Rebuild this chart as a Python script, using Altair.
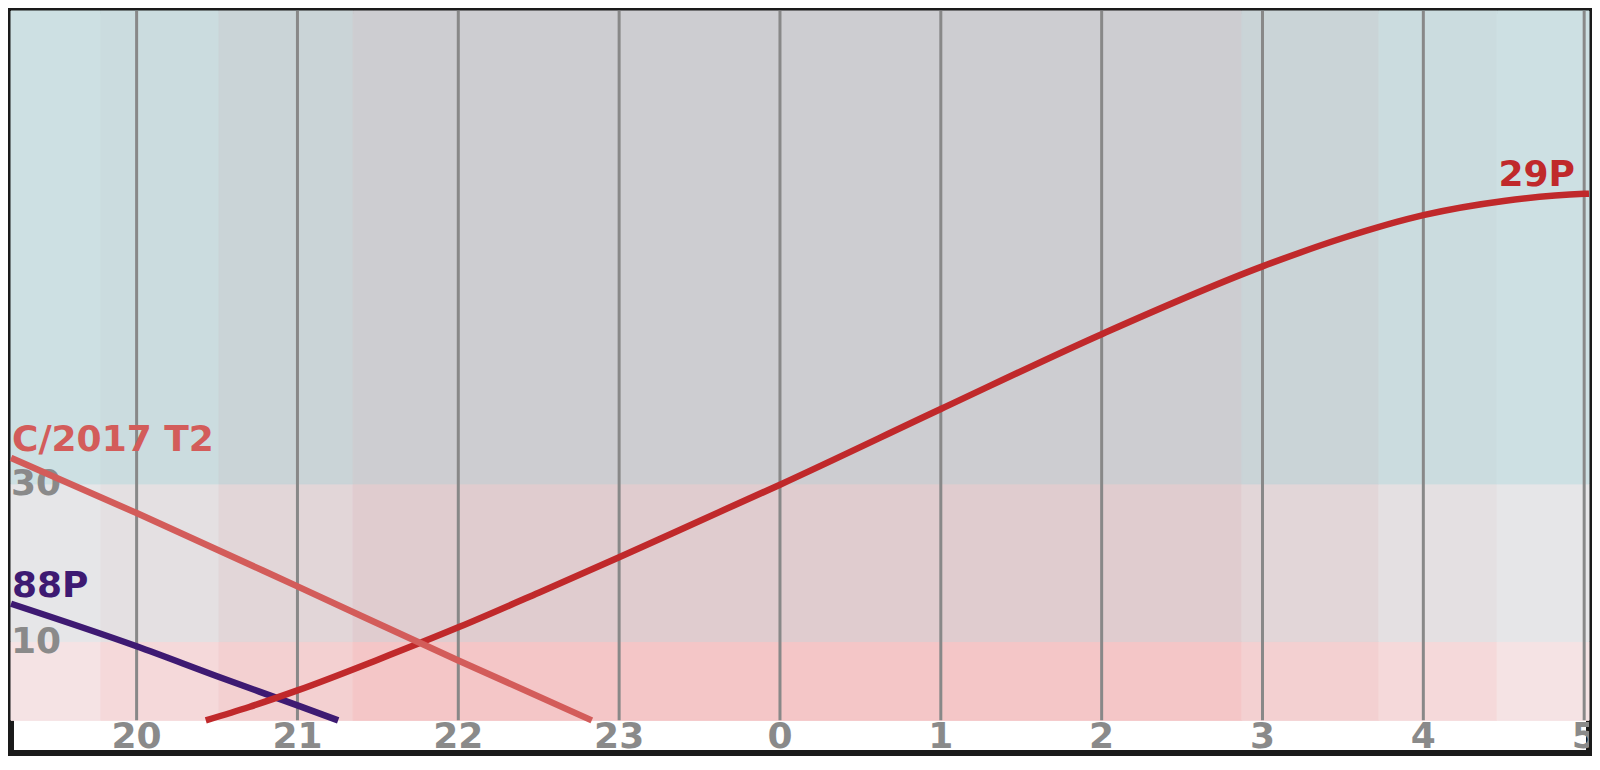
import altair as alt
import pandas as pd

# ---------------- data ----------------
hour_ticks = [20, 21, 22, 23, 24, 25, 26, 27, 28, 29]
hour_labels = ["20", "21", "22", "23", "0", "1", "2", "3", "4", "5"]

alt_ticks = [30, 10]
alt_labels = ["30", "10"]

x_min, x_max = 19.219, 29.030
y_min, y_max = -4.14, 90.0
tick_label_alt = -3.55

# twilight bands (hours, >24 = after midnight) and darkness level of each band
twilight_edges = [19.219, 19.778, 20.512, 21.346, 26.872, 27.724, 28.459, 29.030]
twilight_levels = [0, 1, 2, 3, 2, 1, 0]
# altitude zones
zone_edges = [0, 10, 30, 90]

# comet altitude curves (hour, altitude in degrees)
h_88P = [19.219, 20.0, 20.5, 21.0, 21.253]
a_88P = [14.8, 9.4, 5.6, 1.9, 0.0]

h_29P = [20.43, 20.7, 21.0, 21.5, 22.0, 22.5, 23.0, 23.5, 24.0, 25.0, 26.0, 27.0, 27.5, 28.0, 28.5, 29.0, 29.03]
a_29P = [0.0, 1.7, 3.8, 7.7, 11.8, 16.2, 20.7, 25.3, 29.9, 39.5, 49.0, 57.6, 61.2, 64.1, 65.9, 66.8, 66.82]

h_T2 = [19.219, 20.0, 21.0, 22.0, 22.83]
a_T2 = [33.3, 26.3, 17.0, 7.6, 0.0]

series_names = ["88P", "29P", "C/2017 T2"]

# ---------------- styles ----------------
series_colors = ["#3e1a72", "#c0292b", "#d35c5a"]
grid_gray = "#888888"
label_gray = "#8a8a8a"
FONT = "DejaVu Sans"
# zone colours: rows = zones (low, mid, high), columns = darkness level 0..3
zone_colors = [
    ["#f5e3e4", "#f5d9da", "#f3d0d1", "#f4c6c7"],
    ["#e6e6e8", "#e4e0e2", "#e2d6d8", "#e0cccf"],
    ["#cde0e3", "#cbdcdf", "#cad4d7", "#cdcdd1"],
]

# ---------------- tables ----------------
band_rows = []
for zi in range(len(zone_edges) - 1):
    for ti, lvl in enumerate(twilight_levels):
        band_rows.append(dict(
            x0=twilight_edges[ti], x1=twilight_edges[ti + 1],
            y0=zone_edges[zi], y1=zone_edges[zi + 1],
            fill=zone_colors[zi][lvl]))
bands_df = pd.DataFrame(band_rows)

grid_df = pd.DataFrame({"h": hour_ticks, "y0": zone_edges[0], "y1": zone_edges[-1]})
ticklab_df = pd.DataFrame({"h": hour_ticks, "label": hour_labels, "y": tick_label_alt})
ylab_df = pd.DataFrame({"x": x_min, "a": alt_ticks, "label": alt_labels})

series_data = {"88P": (h_88P, a_88P), "29P": (h_29P, a_29P), "C/2017 T2": (h_T2, a_T2)}
lines_df = pd.concat([
    pd.DataFrame({"series": n, "h": series_data[n][0], "a": series_data[n][1]})
    for n in series_names
])

left_labels = pd.DataFrame({
    "series": ["C/2017 T2", "88P"],
    "h": [h_T2[0], h_88P[0]],
    "a": [a_T2[0], a_88P[0]],
})
right_labels = pd.DataFrame({"series": ["29P"], "h": [h_29P[-1]], "a": [a_29P[-1]]})

# ---------------- chart ----------------
xs = alt.Scale(domain=[x_min, x_max], nice=False, zero=False)
ys = alt.Scale(domain=[y_min, y_max], nice=False, zero=False)
cscale = alt.Scale(domain=series_names, range=series_colors)

bands = alt.Chart(bands_df).mark_rect(strokeWidth=1).encode(
    x=alt.X("x0:Q", scale=xs, axis=None), x2="x1:Q",
    y=alt.Y("y0:Q", scale=ys, axis=None), y2="y1:Q",
    fill=alt.Fill("fill:N", scale=None),
    stroke=alt.Stroke("fill:N", scale=None),
)

grid = alt.Chart(grid_df).mark_rule(color=grid_gray, strokeWidth=3).encode(
    x=alt.X("h:Q", scale=xs, axis=None),
    y=alt.Y("y0:Q", scale=ys, axis=None), y2="y1:Q",
)

tick_text = alt.Chart(ticklab_df).mark_text(
    font=FONT, fontSize=36, fontWeight="bold", color=label_gray,
    align="center", baseline="alphabetic", clip=True,
).encode(
    x=alt.X("h:Q", scale=xs, axis=None),
    y=alt.Y("y:Q", scale=ys, axis=None),
    text="label:N",
)

ylab_text = alt.Chart(ylab_df).mark_text(
    font=FONT, fontSize=36, fontWeight="bold", color=label_gray,
    align="left", baseline="middle",
).encode(
    x=alt.X("x:Q", scale=xs, axis=None),
    y=alt.Y("a:Q", scale=ys, axis=None),
    text="label:N",
)

line_layers = []
for n in series_names:
    line_layers.append(
        alt.Chart(lines_df).transform_filter(alt.datum.series == n)
        .mark_line(strokeWidth=6.5, interpolate="monotone", strokeCap="butt")
        .encode(
            x=alt.X("h:Q", scale=xs, axis=None),
            y=alt.Y("a:Q", scale=ys, axis=None),
            color=alt.Color("series:N", scale=cscale, legend=None),
        )
    )

lab_left = alt.Chart(left_labels).mark_text(
    font=FONT, fontSize=36, fontWeight="bold", align="left",
    baseline="alphabetic", dx=1, dy=-7,
).encode(
    x=alt.X("h:Q", scale=xs, axis=None),
    y=alt.Y("a:Q", scale=ys, axis=None),
    text="series:N",
    color=alt.Color("series:N", scale=cscale, legend=None),
)

lab_right = alt.Chart(right_labels).mark_text(
    font=FONT, fontSize=36, fontWeight="bold", align="right",
    baseline="alphabetic", dx=-14, dy=-8,
).encode(
    x=alt.X("h:Q", scale=xs, axis=None),
    y=alt.Y("a:Q", scale=ys, axis=None),
    text="series:N",
    color=alt.Color("series:N", scale=cscale, legend=None),
)

chart = alt.layer(
    bands, grid, ylab_text, *line_layers, lab_left, lab_right, tick_text
).properties(
    width=1578, height=742, padding=3,
    autosize=alt.AutoSizeParams(type="none"),
    background="white",
).configure_view(stroke="#1a1a1a", strokeWidth=6)

chart.save("out.html", embed_options={"renderer": "svg", "actions": False})
